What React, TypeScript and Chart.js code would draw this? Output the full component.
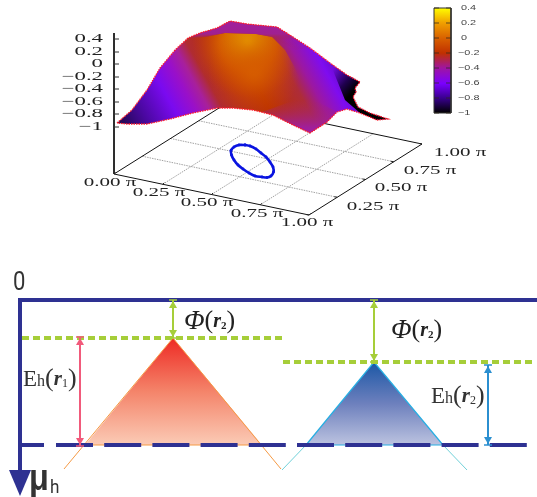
import React, { useEffect, useRef } from "react";
import { Chart, registerables } from "chart.js";
Chart.register(...registerables);

type P = [number, number];
const W = 537, H = 497;

const zTickLabels = ["0.4", "0.2", "0", "\u22120.2", "\u22120.4", "\u22120.6", "\u22120.8", "\u22121"];
const zTickY = [39, 52, 64, 77, 89, 102, 114, 127];
const cbLabels = ["0.4", "0.2", "0", "\u22120.2", "\u22120.4", "\u22120.6", "\u22120.8", "\u22121"];
const cbTickY = [8, 23, 38, 53, 68, 83, 98, 113];
const floorTicks = [0, 0.25, 0.5, 0.75, 1];
const floorXLabels = ["0.00 \u03c0", "0.25 \u03c0", "0.50 \u03c0", "0.75 \u03c0", "1.00 \u03c0"];
const floorXLabelPos: P[] = [[110, 186], [159, 196], [207, 206], [257, 217], [307, 226]];
const floorYLabels = ["0.25 \u03c0", "0.50 \u03c0", "0.75 \u03c0", "1.00 \u03c0"];
const floorYLabelPos: P[] = [[373, 211], [401, 192], [430, 175], [460, 157]];

const surfaceEdge: P[] = [[117,123],[132,110],[147,90],[160,68],[175,50],[188,38],[200,33],[217,28],[230,21],[247,24],[277,27],[293,37],[310,48],[330,63],[347,75],[360,82],[355,88],[356,92],[353,97],[358,107],[370,113],[388,119],[377,120],[360,113],[347,109],[337,112],[327,122],[310,133],[293,125],[273,115],[253,110],[233,108],[217,108],[193,113],[170,119],[147,124],[127,124]];
const backStrip: P[] = [[188,38],[200,33],[217,28],[230,21],[247,24],[277,27],[293,37],[310,48],[296,50],[285,44],[272,37],[256,34],[225,33],[205,37]];
const frontCorner: P[] = [[262,112],[273,115],[293,125],[310,133],[327,122],[337,112],[318,102],[295,100]];
const orangeCore: P[] = [[190,38],[205,37],[225,33],[256,34],[272,37],[285,50],[295,68],[305,90],[300,105],[273,115],[253,110],[233,108],[217,104],[205,85],[195,60]];
const rightDark: P[] = [[330,63],[347,75],[360,82],[355,88],[356,92],[353,97],[358,107],[370,113],[388,119],[377,120],[360,113],[345,100]];
const bluePath: P[] = [[245,145],[250,146],[256,149],[261,153],[266,157],[270,162],[273,167],[273.5,172],[271,176],[267,177.5],[262,177],[255,176],[249,173],[243,169],[238,165],[234,160],[231.5,155],[231,150.5],[234,147],[239,145],[245,145]];

const triRed: P[] = [[85,445],[173,338],[262,445]];
const triBlue: P[] = [[306,445],[374,362],[443,445]];
const navyDashXs: P[] = [[22,44],[56,527]];

function floor(u: number, v: number): P {
  return [114 + 195 * u + 113 * v, 174 + 41 * u - 71 * v];
}

type Run = { t: string; f: string; dy?: number };
type Lab = { runs: Run[]; x: number; y: number; sx?: number; color: string; align?: "left" | "right" | "center" };

const SERIF = '"Liberation Serif"';
const phiRuns = (r: string): Run[] => [
  { t: "\u03a6", f: `italic 27px ${SERIF}` },
  { t: "(", f: `26px ${SERIF}`, dy: -1 },
  { t: "r", f: `italic bold 20px ${SERIF}` },
  { t: r, f: `bold 11px ${SERIF}`, dy: 4 },
  { t: ")", f: `26px ${SERIF}`, dy: -1 },
];
const ehRuns = (r: string): Run[] => [
  { t: "E", f: `23px ${SERIF}` },
  { t: "h", f: `16px ${SERIF}`, dy: 2 },
  { t: "(", f: `26px ${SERIF}`, dy: -1 },
  { t: "r", f: `italic bold 21px ${SERIF}` },
  { t: r, f: `12px ${SERIF}`, dy: 4 },
  { t: ")", f: `26px ${SERIF}`, dy: -1 },
];

export default function App() {
  const ref = useRef<HTMLCanvasElement>(null);
  useEffect(() => {
    const canvas = ref.current!;
    const ctx = canvas.getContext("2d")!;
    const stops = (g: CanvasGradient, s: [number, string][]) => { s.forEach(([o, c]) => g.addColorStop(o, c)); return g; };

    const base = stops(ctx.createLinearGradient(100, 100, 311, -16), [
      [0.015, "#1c0846"], [0.13, "#4a08a0"], [0.25, "#7a0af0"], [0.33, "#9a10c8"], [0.38, "#a8209a"],
      [0.43, "#b02c30"], [0.6, "#bc3200"], [0.74, "#ae2c38"], [0.8, "#9c18a0"], [0.88, "#7f0cf0"], [1, "#4a08a0"],
    ]);
    const strip = stops(ctx.createLinearGradient(0, 20, 0, 40), [[0, "#a01ea0"], [0.7, "#a02090"], [1, "rgba(170,40,60,0.1)"]]);
    const front = stops(ctx.createLinearGradient(0, 100, 0, 128), [[0, "rgba(165,35,110,0)"], [1, "#a01e9e"]]);
    const hot = stops(ctx.createRadialGradient(248, 42, 2, 248, 42, 56), [
      [0, "#e8a400"], [0.16, "#e08c00"], [0.5, "rgba(214,96,0,0.92)"], [1, "rgba(196,62,0,0)"],
    ]);
    const hot2 = stops(ctx.createRadialGradient(254, 72, 4, 254, 72, 46), [
      [0, "rgba(214,92,0,0.9)"], [1, "rgba(206,70,0,0)"],
    ]);
    const dark = stops(ctx.createLinearGradient(336, 66, 358, 86), [[0, "rgba(40,0,110,0)"], [0.6, "#200050"], [1, "#000000"]]);
    const cbar = stops(ctx.createLinearGradient(0, 8, 0, 113), [
      [0, "#ffff00"], [0.14, "#f0a000"], [0.29, "#d86000"], [0.43, "#c03000"], [0.57, "#a015a0"],
      [0.72, "#7a00ff"], [0.86, "#38008c"], [1, "#000000"],
    ]);
    const redFill = stops(ctx.createLinearGradient(0, 338, 0, 445), [[0, "#ee2a24"], [0.5, "#f4846a"], [1, "#fbcbb6"]]);
    const blueFill = stops(ctx.createLinearGradient(0, 362, 0, 445), [[0, "#1b57a6"], [0.5, "#6d80bd"], [1, "#bcc3e0"]]);

    const ds: any[] = [];
    const toData = (p: P[]) => p.map(([x, y]) => ({ x, y }));
    const line = (p: P[], color: string, width: number, dash: number[] = [], extra: any = {}) =>
      ds.push({ data: toData(p), showLine: true, borderColor: color, borderWidth: width, borderDash: dash, pointRadius: 0, tension: 0, fill: false, ...extra });
    const poly = (p: P[], fill: any, extra: any = {}) =>
      ds.push({ data: toData([...p, p[0]]), showLine: true, borderWidth: 0, borderColor: "transparent", backgroundColor: fill, pointRadius: 0, tension: 0, fill: "shape", ...extra });

    // floor grid
    floorTicks.slice(1, 4).forEach((t) => {
      line([floor(t, 0), floor(t, 1)], "#8a8a8a", 0.8, [1.5, 1]);
      line([floor(0, t), floor(1, t)], "#8a8a8a", 0.8, [1.5, 1]);
    });
    line([floor(0, 0), floor(1, 0), floor(1, 1), floor(0, 1), floor(0, 0)], "#111111", 1);
    line([[114, 33], [114, 174]], "#111111", 1);
    zTickY.forEach((y) => line([[114, y], [119, y]], "#333333", 1));
    floorTicks.forEach((t) => {
      const a = floor(t, 0), b = floor(1, t);
      line([a, [a[0] + 1.5, a[1] - 1.5]], "#222222", 1);
      line([b, [b[0] - 3, b[1] - 0.5]], "#222222", 1);
    });
    // surface
    poly(surfaceEdge, base);
    poly(rightDark, dark);
    poly(orangeCore, hot);
    poly(orangeCore, hot2);
    poly(backStrip, strip);
    poly(frontCorner, front);
    line([...surfaceEdge, surfaceEdge[0]], "#ff1a2a", 1.3, [1.5, 1]);
    // contour
    line(bluePath, "#0a14e0", 2.6, [], { tension: 0.3, pointRadius: 1.4, pointBackgroundColor: "#0a14e0", pointBorderWidth: 0 });
    // colour bar
    poly([[434, 8], [451, 8], [451, 113], [434, 113]], cbar);
    line([[434, 8], [451, 8], [451, 113], [434, 113], [434, 8]], "#333333", 1);
    cbTickY.forEach((y) => {
      line([[434, y], [439, y]], "rgba(50,40,30,0.75)", 1);
      line([[446, y], [451, y]], "rgba(50,40,30,0.75)", 1);
    });

    // band diagram
    const navy = "#2e3192", green = "#a6ce39", pink = "#f15a7b", sky = "#2b8fd0";
    poly(triRed, redFill);
    poly(triBlue, blueFill);
    line([[64, 469], [173, 338], [281, 469]], "#f59a45", 1);
    line([[85, 445], [262, 445]], "#f59a45", 1);
    line([[306, 445], [374, 362], [443, 445]], "#27aee2", 1.2);
    line([[306, 445], [443, 445]], "#27aee2", 1.2);
    line([[306, 445], [282, 470]], "#6fd0d8", 1);
    line([[443, 445], [467, 470]], "#6fd0d8", 1);
    line([[22, 338], [283, 338]], green, 4, [7, 4]);
    line([[283, 362], [533, 362]], green, 4, [7, 4]);
    line(navyDashXs.slice(0, 1).map((p) => [p[0], 445] as P).concat([[navyDashXs[0][1], 445]]), navy, 4);
    line([[navyDashXs[1][0], 445], [navyDashXs[1][1], 445]], navy, 4, [37, 11.2]);
    line([[18, 300], [537, 300]], navy, 4);
    line([[20, 300], [20, 472]], navy, 4);
    poly([[9, 470], [31, 470], [20, 496]], navy);

    const vArrow = (x: number, y0: number, y1: number, color: string, w: number) => {
      line([[x, y0], [x, y1]], color, w);
      line([[x - 4, y0], [x + 4, y0]], color, 1.5);
      line([[x - 4, y1], [x + 4, y1]], color, 1.5);
      poly([[x, y0 + 1], [x - 4, y0 + 8], [x + 4, y0 + 8]], color);
      poly([[x, y1 - 1], [x - 4, y1 - 8], [x + 4, y1 - 8]], color);
    };
    vArrow(80, 337, 446, pink, 2);
    vArrow(173, 300, 338, green, 2);
    vArrow(374, 300, 362, green, 2);
    vArrow(488, 365, 445, sky, 2);

    ds.forEach((d, i) => { d.order = ds.length - i; });

    const labels: Lab[] = [];
    zTickLabels.forEach((t, i) => labels.push({ runs: [{ t, f: `12px ${SERIF}` }], x: 103, y: zTickY[i], sx: 1.9, color: "#222", align: "right" }));
    cbLabels.forEach((t, i) => labels.push({ runs: [{ t, f: `7.5px "Liberation Sans"` }], x: t.startsWith("\u2212") ? 458 : 461, y: cbTickY[i], sx: 1.45, color: "#444", align: "left" }));
    floorXLabels.forEach((t, i) => labels.push({ runs: [{ t, f: `12px ${SERIF}` }], x: floorXLabelPos[i][0], y: floorXLabelPos[i][1] - 3, sx: 1.75, color: "#222", align: "center" }));
    floorYLabels.forEach((t, i) => labels.push({ runs: [{ t, f: `12px ${SERIF}` }], x: floorYLabelPos[i][0], y: floorYLabelPos[i][1] - 4, sx: 1.75, color: "#222", align: "center" }));
    labels.push({ runs: [{ t: "0", f: `26px "Roboto"` }], x: 13, y: 283, sx: 0.85, color: "#333" });
    labels.push({ runs: [{ t: "\u03bc", f: `bold 36px "Liberation Sans"` }], x: 29, y: 480, sx: 0.9, color: "#333" });
    labels.push({ runs: [{ t: "h", f: `19px "Roboto"` }], x: 50, y: 488, sx: 0.9, color: "#333" });
    labels.push({ runs: phiRuns("2"), x: 184, y: 322, color: "#222" });
    labels.push({ runs: phiRuns("2"), x: 391, y: 331, color: "#222" });
    labels.push({ runs: ehRuns("1"), x: 23, y: 380, color: "#333" });
    labels.push({ runs: ehRuns("2"), x: 431, y: 397, color: "#333" });

    const textPlugin = {
      id: "textLabels",
      afterDatasetsDraw(chart: any) {
        const c = chart.ctx, xs = chart.scales.x, ys = chart.scales.y;
        labels.forEach((l) => {
          c.save();
          c.fillStyle = l.color;
          c.textBaseline = "middle";
          c.textAlign = "left";
          const sx = l.sx ?? 1;
          let total = 0;
          l.runs.forEach((r) => { c.font = r.f; total += c.measureText(r.t).width; });
          const px = xs.getPixelForValue(l.x), py = ys.getPixelForValue(l.y);
          c.translate(px, py);
          c.scale(sx, 1);
          let x = l.align === "right" ? -total : l.align === "center" ? -total / 2 : 0;
          l.runs.forEach((r) => { c.font = r.f; c.fillText(r.t, x, r.dy ?? 0); x += c.measureText(r.t).width; });
          c.restore();
        });
      },
    };

    const chart = new Chart(canvas, {
      type: "scatter",
      data: { datasets: ds },
      plugins: [textPlugin],
      options: {
        animation: false,
        responsive: false,
        devicePixelRatio: 1,
        layout: { padding: 0, autoPadding: false },
        plugins: { legend: { display: false }, tooltip: { enabled: false } },
        scales: {
          x: { type: "linear", min: 0, max: W, display: false },
          y: { type: "linear", min: 0, max: H, reverse: true, display: false },
        },
      },
    } as any);
    return () => chart.destroy();
  }, []);
  return <canvas ref={ref} width={W} height={H} style={{ position: "fixed", left: 0, top: 0, width: W, height: H, display: "block" }} />;
}
